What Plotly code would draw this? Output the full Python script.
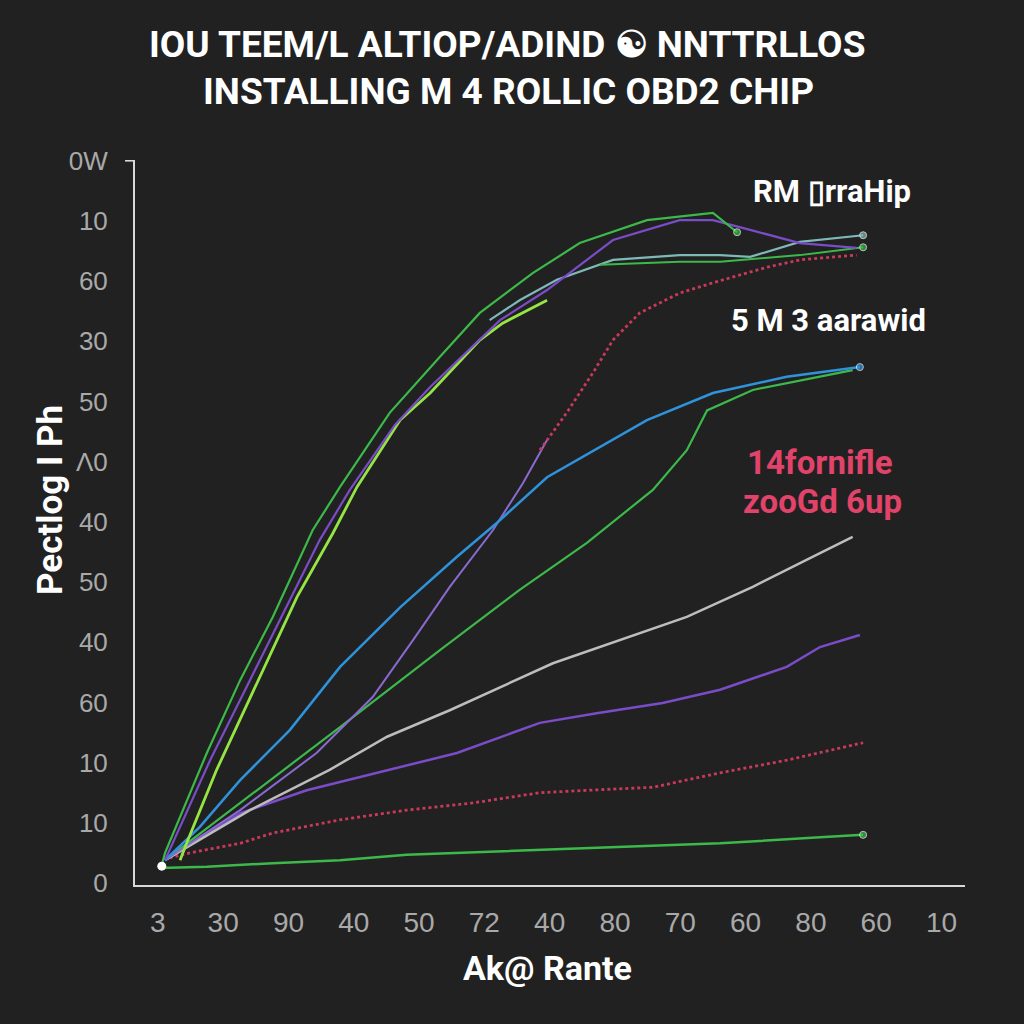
import plotly.graph_objects as go

# ---- tick labels ----
x_tick_vals = [0, 10, 20, 30, 40, 50, 60, 70, 80, 90, 100, 110, 120]
x_tick_text = ["3", "30", "90", "40", "50", "72", "40", "80", "70", "60", "80", "60", "10"]
y_tick_vals = [0, 10, 20, 30, 40, 50, 60, 70, 80, 90, 100, 110, 120]
y_tick_text = ["0", "10", "10", "60", "40", "50", "40", "Λ0", "50", "30", "60", "10", "0W"]

# ---- series (x, y) ----
green_top_x = [0.6, 1.1, 7.5, 12.6, 17.6, 23.7, 27.9, 35.5, 43.2, 49.3, 57.4, 64.6, 74.9, 85.0, 88.7]
green_top_y = [3.0, 5.0, 21.6, 33.7, 44.2, 58.6, 65.8, 78.1, 87.4, 94.7, 101.3, 106.3, 110.1, 111.3, 108.1]

purple_top_x = [1.1, 8.0, 14.1, 18.7, 24.8, 29.4, 36.3, 41.7, 52.4, 59.6, 69.7, 79.9, 85.0, 90.7, 98.3, 107.0]
purple_top_y = [3.8, 20.4, 33.7, 43.7, 57.0, 65.3, 76.1, 82.4, 93.5, 98.5, 106.8, 110.1, 110.1, 108.5, 106.3, 105.5]

lime_x = [3.4, 4.4, 9.0, 14.5, 21.3, 26.8, 30.5, 37.1, 41.7, 49.3, 52.8, 59.6]
lime_y = [3.8, 6.6, 18.8, 31.6, 47.5, 58.1, 65.8, 76.9, 81.4, 90.2, 93.0, 96.8]

teal_x = [50.8, 55.4, 61.1, 69.7, 79.9, 86.1, 90.7, 98.3, 108.0]
teal_y = [93.5, 96.8, 100.2, 103.5, 104.3, 104.3, 104.0, 106.5, 107.6]

green_top2_x = [67.7, 79.9, 86.1, 98.3, 108.0]
green_top2_y = [102.7, 103.2, 103.2, 104.3, 105.6]

purple_mid_x = [1.1, 12.6, 24.3, 32.9, 39.1, 44.7, 51.3, 55.9, 59.6]
purple_mid_y = [3.8, 12.1, 21.6, 30.9, 40.4, 49.2, 58.6, 66.4, 73.6]

red_top_x = [58.5, 62.6, 66.6, 69.7, 73.8, 79.9, 85.0, 88.1, 93.3, 98.3, 107.0]
red_top_y = [71.9, 78.1, 84.7, 90.2, 94.7, 98.0, 99.7, 100.7, 102.3, 103.5, 104.3]

blue_x = [1.1, 6.4, 12.6, 20.2, 27.9, 37.1, 45.8, 51.9, 59.6, 69.7, 74.9, 85.0, 96.3, 107.5]
blue_y = [3.8, 9.3, 17.1, 25.4, 35.9, 45.8, 54.2, 59.8, 67.4, 73.6, 76.9, 81.4, 84.1, 85.7]

green_mid_x = [1.1, 12.6, 27.9, 43.2, 55.4, 65.7, 75.8, 81.0, 84.1, 91.1, 101.4, 106.4]
green_mid_y = [3.8, 13.3, 25.9, 38.7, 48.7, 56.5, 65.3, 71.9, 78.5, 81.9, 84.1, 85.2]

gray_x = [1.1, 14.1, 26.3, 35.1, 44.7, 58.5, 60.5, 81.0, 91.1, 101.4, 106.4]
gray_y = [3.8, 12.1, 18.8, 24.3, 28.7, 35.4, 36.5, 44.2, 49.2, 54.8, 57.5]

purple_low_x = [1.1, 12.6, 22.8, 35.5, 45.8, 58.5, 67.2, 77.3, 86.1, 96.3, 101.4, 107.5]
purple_low_y = [3.8, 11.6, 15.4, 18.8, 21.6, 26.6, 28.2, 29.9, 32.1, 35.9, 39.2, 41.2]

red_low_x = [1.8, 4.9, 12.6, 17.6, 27.9, 38.1, 48.2, 58.5, 65.7, 75.8, 86.1, 96.3, 108.0]
red_low_y = [4.2, 5.0, 6.6, 8.3, 10.5, 12.1, 13.3, 15.0, 15.4, 15.9, 18.3, 20.4, 23.3]

green_low_x = [0.3, 7.5, 17.6, 27.9, 38.1, 48.2, 58.5, 70.7, 86.1, 101.4, 108.0]
green_low_y = [2.5, 2.7, 3.3, 3.8, 4.7, 5.1, 5.5, 6.0, 6.6, 7.6, 8.0]

origin_x = [0.6]
origin_y = [2.8]

BG = "#212121"
GREEN = "#3cb94a"
PURPLE = "#7b4cc8"
LIME = "#95e545"
TEAL = "#7fb8b8"
RED = "#c9395a"
BLUE = "#2f93dc"
GRAY = "#bdbdbd"

fig = go.Figure()

def add(x, y, color, width=2.2, dash="solid", end_marker=False):
    n = len(x)
    sizes = [0] * (n - 1) + [7 if end_marker else 0]
    fig.add_trace(go.Scatter(
        x=x, y=y, mode="lines+markers" if end_marker else "lines",
        line=dict(color=color, width=width, dash=dash),
        marker=dict(size=sizes, color=color),
        showlegend=False, hoverinfo="skip"))

add(red_low_x, red_low_y, RED, 2.8, "dot")
add(green_low_x, green_low_y, GREEN, 2.5, end_marker=True)
add(purple_low_x, purple_low_y, PURPLE, 2.5)
add(gray_x, gray_y, GRAY, 2.5)
add(green_mid_x, green_mid_y, GREEN, 2.2)
add(purple_mid_x, purple_mid_y, "#8a6ad0", 2.0)
add(red_top_x, red_top_y, RED, 2.8, "dot")
add(blue_x, blue_y, BLUE, 2.5, end_marker=True)
add(teal_x, teal_y, TEAL, 2.2, end_marker=True)
add(green_top2_x, green_top2_y, GREEN, 2.0, end_marker=True)
add(lime_x, lime_y, LIME, 2.8)
add(purple_top_x, purple_top_y, PURPLE, 2.2)
add(green_top_x, green_top_y, GREEN, 2.2, end_marker=True)

fig.add_trace(go.Scatter(x=origin_x, y=origin_y, mode="markers",
                         marker=dict(size=9, color="#ffffff"),
                         showlegend=False, hoverinfo="skip"))

BOLD = "Roboto, Liberation Sans, sans-serif"
TICK = "Liberation Sans, Arial, sans-serif"

fig.update_layout(
    width=1024, height=1024,
    paper_bgcolor=BG, plot_bgcolor=BG,
    margin=dict(l=135, r=59, t=160, b=139),
    xaxis=dict(range=[-3.5, 123.6], tickvals=x_tick_vals, ticktext=x_tick_text,
               showgrid=False, zeroline=False, showline=True, linecolor="#d8d8d8",
               linewidth=2, ticks="", ticklabelstandoff=11,
               tickfont=dict(family=TICK, size=28, color="#a9a9a9")),
    yaxis=dict(range=[-0.33, 120.1], tickvals=y_tick_vals, ticktext=y_tick_text,
               showgrid=False, zeroline=False, showline=True, linecolor="#d8d8d8",
               linewidth=2, ticks="", ticklabelstandoff=20,
               tickfont=dict(family=TICK, size=26, color="#a9a9a9")),
    shapes=[dict(type="line", xref="paper", yref="y", x0=-0.012, x1=0, y0=120, y1=120,
                 line=dict(color="#d8d8d8", width=2))],
)

anns = [
    dict(text="<b>IOU TEEM/L ALTIOP/ADIND ☯ NNTTRLLOS</b>", x=507, y=45, size=37, color="#ffffff"),
    dict(text="<b>INSTALLING M 4 ROLLIC OBD2 CHIP</b>", x=508, y=92, size=37, color="#ffffff"),
    dict(text="<b>RM ▯rraHip</b>", x=832, y=192, size=31, color="#ffffff"),
    dict(text="<b>5 M 3 aarawid</b>", x=828, y=320, size=31, color="#ffffff"),
    dict(text="<b>14fornifle</b>", x=820, y=462, size=33, color="#e2436a"),
    dict(text="<b>zooGd 6up</b>", x=822, y=501, size=33, color="#e2436a"),
    dict(text="<b>Ak@ Rante</b>", x=547, y=968, size=34, color="#ffffff"),
]
for a in anns:
    fig.add_annotation(text=a["text"], xref="paper", yref="paper",
                       x=(a["x"] - 135) / 830, y=(885 - a["y"]) / 725,
                       xanchor="center", yanchor="middle", showarrow=False,
                       font=dict(family=BOLD, size=a["size"], color=a["color"]))

fig.add_annotation(text="<b>Pectlog I Ph</b>", xref="paper", yref="paper",
                   x=(50 - 135) / 830, y=(885 - 500) / 725, textangle=-90,
                   xanchor="center", yanchor="middle", showarrow=False,
                   font=dict(family=BOLD, size=35, color="#ffffff"))

fig.write_html("out.html")
